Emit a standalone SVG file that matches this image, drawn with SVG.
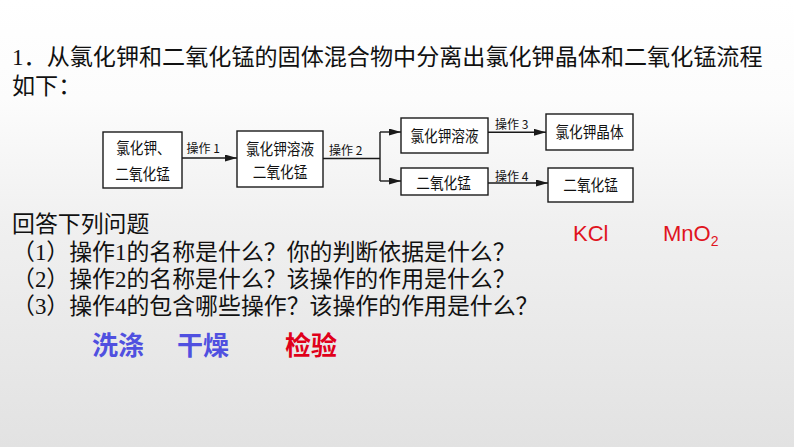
<svg xmlns="http://www.w3.org/2000/svg" width="794" height="447" viewBox="0 0 794 447">
<style>
.q{font-family:"Liberation Serif","Noto Sans CJK SC",serif;font-size:22.9px;fill:#111}
.t{font-family:"Liberation Serif","Noto Sans CJK SC",serif;font-size:23.1px;fill:#111}
.bx{fill:#ffffff;stroke:#1a1a1a;stroke-width:1.4}
.bt{font-family:"Noto Sans CJK SC","Noto Sans",sans-serif;font-size:15.5px;fill:#111;text-anchor:middle;transform-box:fill-box;transform-origin:center;transform:scaleX(0.88)}
.lb{font-family:"Noto Sans CJK SC","Noto Sans",sans-serif;font-size:12px;fill:#111}
.ln{fill:none;stroke:#1a1a1a;stroke-width:1.4}
.chem{font-family:"Liberation Sans",Arial,sans-serif;font-size:22px;fill:#e0141e}
.kw{font-family:"Noto Sans CJK SC",sans-serif;font-size:26px;font-weight:700}
</style>
<defs>
<linearGradient id="bg" x1="0" y1="0" x2="0" y2="1">
<stop offset="0" stop-color="#ffffff"/>
<stop offset="0.22" stop-color="#fcfcfc"/>
<stop offset="0.5" stop-color="#f0f0f0"/>
<stop offset="1" stop-color="#e2e2e2"/>
</linearGradient>
<marker id="ah" markerUnits="userSpaceOnUse" markerWidth="13" markerHeight="8" refX="12" refY="3.5" orient="auto">
<path d="M0,0 L12,3.5 L0,7 z" fill="#1a1a1a"/>
</marker>
</defs>
<rect x="0" y="0" width="794" height="447" fill="url(#bg)"/>

<g id="title">
<text class="t" x="12" y="65">1．从氯化钾和二氧化锰的固体混合物中分离出氯化钾晶体和二氧化锰流程</text>
<text class="t" x="12" y="94">如下：</text>
</g>

<g id="connectors">
<line class="ln" x1="182" y1="158" x2="237" y2="158" marker-end="url(#ah)"/>
<line class="ln" x1="323" y1="158.5" x2="380" y2="158.5"/>
<line class="ln" x1="380" y1="132" x2="380" y2="181"/>
<line class="ln" x1="380" y1="132" x2="401" y2="132" marker-end="url(#ah)"/>
<line class="ln" x1="380" y1="181" x2="401" y2="181" marker-end="url(#ah)"/>
<line class="ln" x1="488" y1="132.3" x2="546" y2="132.3" marker-end="url(#ah)"/>
<line class="ln" x1="488" y1="183" x2="548" y2="183" marker-end="url(#ah)"/>
<text class="lb" x="186.5" y="152.5">操作 1</text>
<text class="lb" x="329" y="154.5">操作 2</text>
<text class="lb" x="495" y="129.2">操作 3</text>
<text class="lb" x="495" y="181.2">操作 4</text>
</g>

<g id="n1">
<rect class="bx" x="103" y="132" width="79" height="56"/>
<text class="bt" x="143.5" y="154.5">氯化钾、</text>
<text class="bt" x="142.5" y="179.8">二氧化锰</text>
</g>
<g id="n2">
<rect class="bx" x="237" y="131" width="86" height="56"/>
<text class="bt" x="280" y="154.8">氯化钾溶液</text>
<text class="bt" x="280" y="178.3">二氧化锰</text>
</g>
<g id="n3">
<rect class="bx" x="401" y="118" width="87" height="35"/>
<text class="bt" x="444.5" y="141.6">氯化钾溶液</text>
</g>
<g id="n4">
<rect class="bx" x="401" y="168" width="87" height="27"/>
<text class="bt" x="443.5" y="189.1">二氧化锰</text>
</g>
<g id="n5">
<rect class="bx" x="546" y="114" width="87" height="36"/>
<text class="bt" x="589.5" y="138.3">氯化钾晶体</text>
</g>
<g id="n6">
<rect class="bx" x="548" y="168" width="85" height="34"/>
<text class="bt" x="590.5" y="190.8">二氧化锰</text>
</g>

<g id="questions">
<text class="q" x="12" y="232">回答下列问题</text>
<text class="q" x="12" y="259.5">（1）操作1的名称是什么？你的判断依据是什么？</text>
<text class="q" x="12" y="286.7">（2）操作2的名称是什么？该操作的作用是什么？</text>
<text class="q" x="12" y="314">（3）操作4的包含哪些操作？该操作的作用是什么？</text>
</g>

<g id="formulas">
<text class="chem" x="573" y="241">KCl</text>
<text class="chem" x="663" y="241">MnO<tspan font-size="14" dy="5">2</tspan></text>
</g>

<g id="answers">
<text class="kw" x="92" y="354.5" fill="#5050e0">洗涤</text>
<text class="kw" x="177" y="354.5" fill="#5050e0">干燥</text>
<text class="kw" x="285" y="354.5" fill="#e0001a">检验</text>
</g>
</svg>
